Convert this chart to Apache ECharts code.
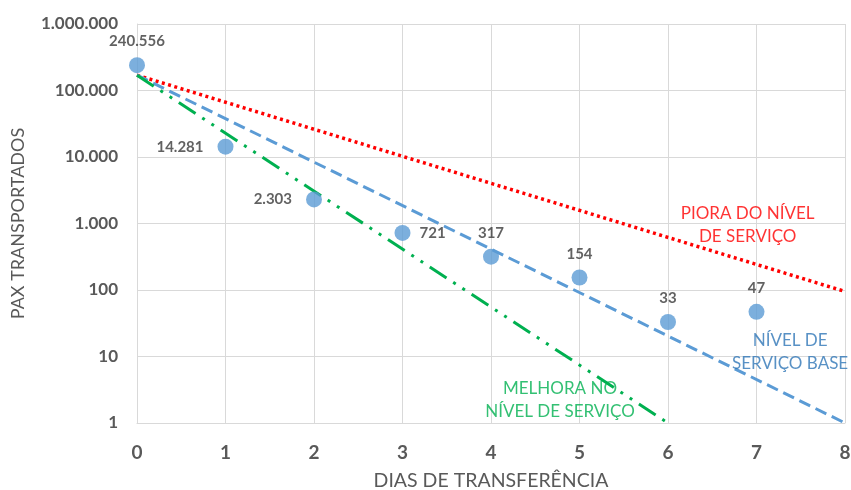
<!DOCTYPE html>
<html><head><meta charset="utf-8">
<script src="https://cdn.jsdelivr.net/npm/echarts@6/dist/echarts.min.js"></script>
<style>html,body{margin:0;padding:0;background:#fff}#c{width:851px;height:490px}</style>
</head><body><div id="c"></div>
<script>
const days = [0, 1, 2, 3, 4, 5, 6, 7];
const pax = [240556, 14281, 2303, 721, 317, 154, 33, 47];
const labelPos = ['top', 'left', 'left', 'right', 'top', 'top', 'top', 'top'];
const redLine = [[0, 170000], [8, 95]];
const blueLine = [[0, 170000], [8, 1]];
const greenLine = [[0, 170000], [6, 1]];
const notes = [
  { text: 'PIORA DO NÍVEL\nDE SERVIÇO', x: 6.9, y: 950, color: '#ff0000' },
  { text: 'NÍVEL DE\nSERVIÇO BASE', x: 7.38, y: 11.7, color: '#2e75b6' },
  { text: 'MELHORA NO\nNÍVEL DE SERVIÇO', x: 4.78, y: 2.2, color: '#00b050' }
];
const FONT = 'Lato, "Open Sans", sans-serif';
function fmt(v) { return Math.round(v).toString().replace(/\B(?=(\d{3})+(?!\d))/g, '.'); }

const chart = echarts.init(document.getElementById('c'));
chart.setOption({
  animation: false,
  backgroundColor: '#fff',
  grid: { left: 137, right: 6, top: 24, bottom: 67, containLabel: false, outerBoundsMode: 'none' },
  xAxis: {
    type: 'value', min: 0, max: 8, interval: 1,
    name: 'DIAS DE TRANSFERÊNCIA', nameLocation: 'middle', nameGap: 48,
    nameTextStyle: { fontFamily: FONT, fontSize: 19.5, color: '#595959' },
    axisLine: { show: true, lineStyle: { color: '#d9d9d9' } },
    axisTick: { show: false },
    axisLabel: { fontFamily: FONT, fontSize: 19, fontWeight: 'bold', color: '#595959', margin: 20 },
    splitLine: { show: true, lineStyle: { color: '#d9d9d9', width: 1 } }
  },
  yAxis: {
    type: 'log', logBase: 10, min: 1, max: 1000000,
    name: 'PAX TRANSPORTADOS', nameLocation: 'middle', nameGap: 110, nameRotate: 90,
    nameTextStyle: { fontFamily: FONT, fontSize: 18, color: '#595959' },
    axisLine: { show: true, lineStyle: { color: '#d9d9d9' } },
    axisTick: { show: false },
    axisLabel: { fontFamily: FONT, fontSize: 17, fontWeight: 'bold', color: '#595959', margin: 19, formatter: fmt },
    splitLine: { show: true, lineStyle: { color: '#d9d9d9', width: 1 } }
  },
  series: [
    { type: 'line', data: redLine, symbol: 'none', z: 2,
      lineStyle: { color: '#ff0000', width: 3.5, type: [3, 3.5], cap: 'butt' } },
    { type: 'line', data: blueLine, symbol: 'none', z: 2,
      lineStyle: { color: '#5b9bd5', width: 3, type: [12, 6] } },
    { type: 'line', data: greenLine, symbol: 'none', z: 2,
      lineStyle: { color: '#00b050', width: 3, type: [20, 8, 3, 8, 3, 8] } },
    { type: 'scatter', symbolSize: 16, z: 5,
      itemStyle: { color: '#5b9bd5' },
      data: days.map((d, i) => ({ value: [d, pax[i]],
        label: { show: true, position: labelPos[i], distance: labelPos[i] === 'top' ? 8 : (labelPos[i] === 'right' ? 9 : 14),
          formatter: fmt(pax[i]), fontFamily: FONT, fontSize: 15, fontWeight: 'bold', color: '#3a3a3a' } })) },
    { type: 'scatter', symbolSize: 0, z: 6, silent: true,
      data: notes.map(n => ({ value: [n.x, n.y],
        label: { show: true, position: 'inside', formatter: n.text, align: 'center', verticalAlign: 'middle',
          fontFamily: FONT, fontSize: 17, lineHeight: 23, color: n.color } })) }
  ]
});
</script></body></html>
